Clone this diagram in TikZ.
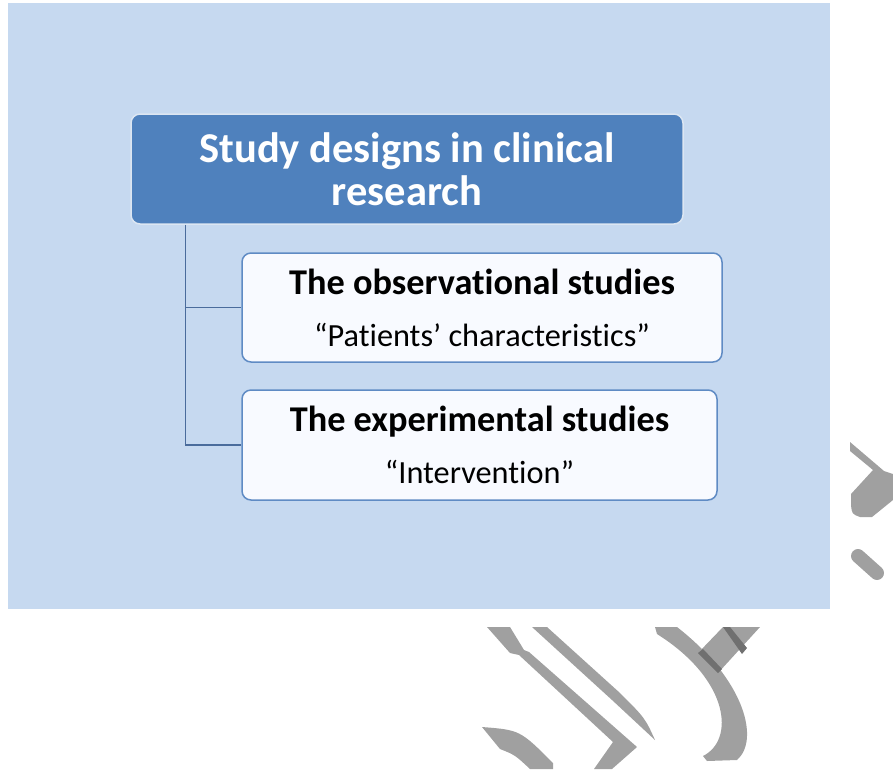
\documentclass[tikz,border=0pt]{standalone}
\usepackage{fontspec}
\setmainfont[Ligatures=NoCommon]{Carlito}
\usetikzlibrary{positioning}
\definecolor{panelblue}{RGB}{198,217,240}
\definecolor{headblue}{RGB}{79,129,189}
\definecolor{boxedge}{RGB}{95,139,196}
\definecolor{boxfill}{RGB}{248,250,255}
\definecolor{linkblue}{RGB}{74,108,156}
\definecolor{markgrey}{RGB}{160,160,160}
\definecolor{markdark}{RGB}{112,112,112}

\tikzset{
  headbox/.style={draw=white!80!headblue, line width=1.5pt, fill=headblue, rounded corners=9pt, text=white, align=center, font=\fontsize{42.5}{43}\selectfont\bfseries},
  studybox/.style={draw=boxedge, line width=1.5pt, fill=boxfill, rounded corners=9pt, align=center, font=\fontsize{32.3}{52}\selectfont},
  link/.style={draw=linkblue, line width=1.5pt},
}

\begin{document}
\begin{tikzpicture}[x=1pt, y=-1pt]
  \useasboundingbox (0,0) rectangle (893,769);
  \fill[panelblue] (8,3) rectangle (830,609);

  \node[headbox, minimum width=552pt, minimum height=110pt] (design) at (407,169) {Study designs in clinical\\research};
  \node[studybox, minimum width=480pt, minimum height=109pt] (obs) at (482,307.5) {{\fontsize{36.3}{40}\selectfont\bfseries The observational studies}\\“Patients’ characteristics”};
  \node[studybox, minimum width=475pt, minimum height=110pt] (exp) at (479.5,445) {{\fontsize{36.3}{40}\selectfont\bfseries The experimental studies}\\“Intervention”};

  \draw[link] ([xshift=55pt]design.south west) |- (obs.west);
  \draw[link] ([xshift=55pt]design.south west) |- (exp.west);

  % grey marks along the right and bottom edge
  \fill[markgrey] (850,442) -- (884,471) -- (893,474) -- (893,500) -- (872,517) -- (860,517) .. controls (852,514) .. (851,505) -- (851,494) -- (873,470) -- (850,451) -- cycle;
  \draw[markgrey, line width=14pt, line cap=round] (858,556) -- (877,573);
  \fill[markgrey] (487,627) -- (510,627) -- (524,650) -- (529,652) -- (637,747) -- (612,769) -- (594,769) -- (613,742) -- (519,655) -- (510,653) -- cycle;
  \fill[markgrey] (532,627) -- (547,627) -- (620,693) .. controls (645,718) .. (655,740) -- (612,700) -- cycle;
  \fill[markgrey] (482,727) .. controls (520,730) .. (553,763) -- (553,769) -- (530,769) .. controls (515,755) .. (500,749) -- cycle;
  \fill[markgrey] (655,627) -- (677,627) .. controls (745,680) and (760,740) .. (737,760) -- (707,761) -- (703,756) .. controls (735,740) and (730,680) .. (657,634) -- cycle;
  \fill[markgrey] (723,627) -- (760,627) -- (718,673) -- (698,653) -- cycle;
  \fill[markdark] (723,627) -- (730,627) -- (747,648) -- (742,654) -- cycle;
  \fill[markdark] (698,653) -- (703,649) -- (722,669) -- (718,673) -- cycle;
\end{tikzpicture}
\end{document}
